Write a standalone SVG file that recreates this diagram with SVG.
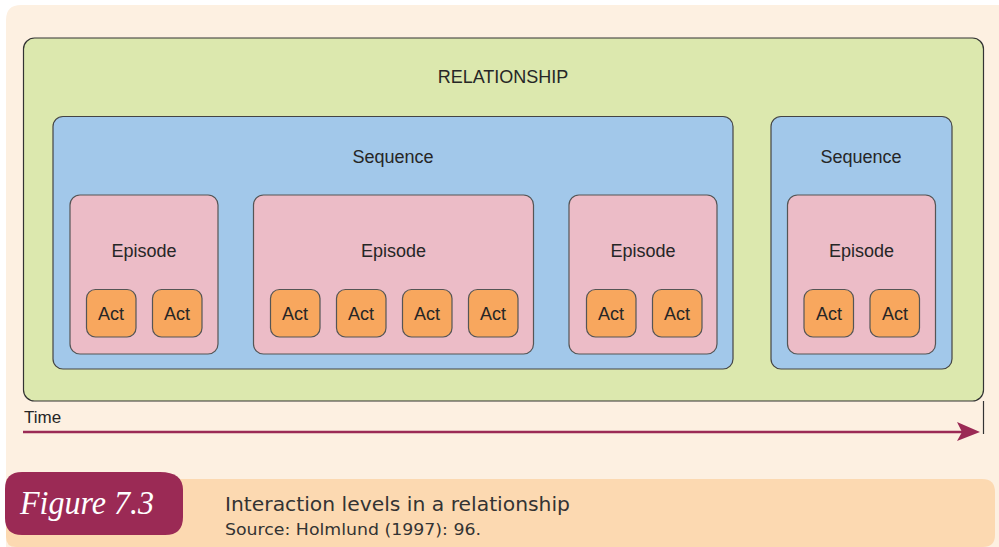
<svg xmlns="http://www.w3.org/2000/svg" width="999" height="547" viewBox="0 0 999 547">
<defs>
<style>
.t{font-family:"Liberation Sans",Arial,sans-serif;fill:#262626;text-anchor:middle;font-size:18px}
.rel{fill:#DCE8AE;stroke:#333;stroke-width:1.2}
.seq{fill:#A2C8EA;stroke:#444;stroke-width:1.2}
.ep{fill:#ECBCC7;stroke:#555;stroke-width:1.2}
.act{fill:#F8A75E;stroke:#555;stroke-width:1.2}
.cap{font-family:"DejaVu Sans","Liberation Sans",sans-serif;fill:#333}
</style>
</defs>
<path d="M21,5 H999 V547 H6 V20 Q6,5 21,5 Z" fill="#FDF0E1"/>
<path d="M6,479 H982 Q995,479 995,492 V535 Q995,547 983,547 H16 Q6,547 6,537 Z" fill="#FCD9B1"/>
<g id="relationship">
<rect class="rel" x="23.5" y="38" width="960" height="363" rx="11"/>
<text class="t" x="503" y="83">RELATIONSHIP</text>
</g>
<g id="sequence1">
<rect class="seq" x="53" y="116.5" width="680" height="252.5" rx="10"/>
<text class="t" x="393" y="163">Sequence</text>
</g>
<g id="sequence2">
<rect class="seq" x="771" y="116.5" width="181" height="252.5" rx="10"/>
<text class="t" x="861" y="163">Sequence</text>
</g>
<g id="episode1">
<rect class="ep" x="70" y="195" width="148" height="159" rx="10"/>
<text class="t" x="144" y="257">Episode</text>
</g>
<g id="episode2">
<rect class="ep" x="253.5" y="195" width="280" height="159" rx="10"/>
<text class="t" x="393.5" y="257">Episode</text>
</g>
<g id="episode3">
<rect class="ep" x="569" y="195" width="148" height="159" rx="10"/>
<text class="t" x="643" y="257">Episode</text>
</g>
<g id="episode4">
<rect class="ep" x="787.5" y="195" width="148" height="159" rx="10"/>
<text class="t" x="861.5" y="257">Episode</text>
</g>
<g id="act1"><rect class="act" x="86.5" y="289.5" width="49.5" height="47.5" rx="9"/><text class="t" x="111" y="320">Act</text></g>
<g id="act2"><rect class="act" x="152.5" y="289.5" width="49.5" height="47.5" rx="9"/><text class="t" x="177" y="320">Act</text></g>
<g id="act3"><rect class="act" x="270.5" y="289.5" width="49.5" height="47.5" rx="9"/><text class="t" x="295" y="320">Act</text></g>
<g id="act4"><rect class="act" x="336.5" y="289.5" width="49.5" height="47.5" rx="9"/><text class="t" x="361" y="320">Act</text></g>
<g id="act5"><rect class="act" x="402.5" y="289.5" width="49.5" height="47.5" rx="9"/><text class="t" x="427" y="320">Act</text></g>
<g id="act6"><rect class="act" x="468.5" y="289.5" width="49.5" height="47.5" rx="9"/><text class="t" x="493" y="320">Act</text></g>
<g id="act7"><rect class="act" x="586.5" y="289.5" width="49.5" height="47.5" rx="9"/><text class="t" x="611" y="320">Act</text></g>
<g id="act8"><rect class="act" x="652.5" y="289.5" width="49.5" height="47.5" rx="9"/><text class="t" x="677" y="320">Act</text></g>
<g id="act9"><rect class="act" x="804" y="289.5" width="49.5" height="47.5" rx="9"/><text class="t" x="829" y="320">Act</text></g>
<g id="act10"><rect class="act" x="870" y="289.5" width="49.5" height="47.5" rx="9"/><text class="t" x="895" y="320">Act</text></g>
<g id="connectors">
<line x1="983.5" y1="401" x2="983.5" y2="434" stroke="#333" stroke-width="1.2"/>
<line x1="23" y1="432" x2="965" y2="432" stroke="#9B2A55" stroke-width="2.6"/>
<path d="M980,432 L957,422 L962,432 L957,441 Z" fill="#9B2A55"/>
</g>
<text x="24" y="423" font-family="Liberation Sans,Arial,sans-serif" font-size="17" fill="#262626">Time</text>
<g id="figure-label">
<path d="M22,472 H160 Q183,472 183,490 V517 Q183,535 165,535 H22 Q5,535 5,518 V489 Q5,472 22,472 Z" fill="#9B2A55"/>
<text x="20" y="514" font-family="Liberation Serif,serif" font-style="italic" font-size="33" fill="#ffffff" textLength="134" lengthAdjust="spacingAndGlyphs">Figure 7.3</text>
</g>
<text class="cap" x="225" y="511" font-size="19" textLength="345" lengthAdjust="spacingAndGlyphs">Interaction levels in a relationship</text>
<text class="cap" x="225" y="535" font-size="15" textLength="256" lengthAdjust="spacingAndGlyphs">Source: Holmlund (1997): 96.</text>
</svg>
